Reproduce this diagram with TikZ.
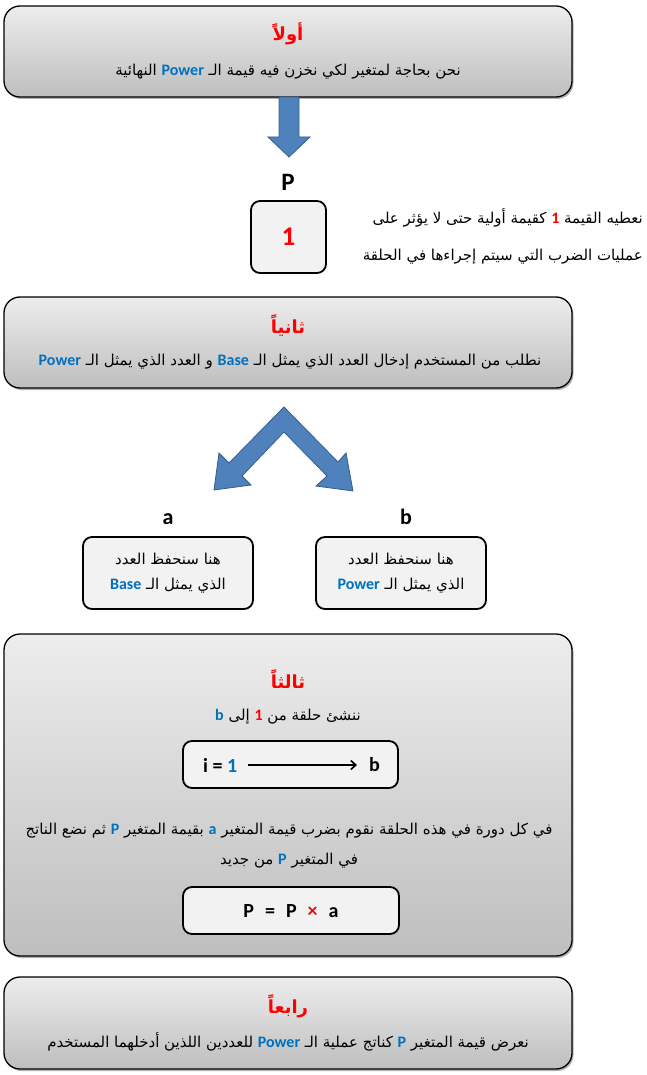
\documentclass[tikz,border=0pt]{standalone}
\usepackage{fontspec}
\setmainfont{Carlito}
\newfontfamily\arabicfont[Script=Arabic]{DejaVu Sans}
\TeXXeTstate=1
\usetikzlibrary{shadows,arrows.meta}
\definecolor{myblue}{RGB}{0,112,192}
\definecolor{myred}{RGB}{255,0,0}
\definecolor{arrowfill}{RGB}{79,129,189}
\definecolor{arrowline}{RGB}{56,93,138}
\definecolor{topg}{RGB}{237,237,237}
\definecolor{botg}{RGB}{190,190,190}
\definecolor{lightg}{RGB}{242,242,242}
\newcommand\AR[1]{\beginR #1\endR}
\newcommand\LB[1]{\beginL{\rmfamily\fontsize{16}{16}\selectfont\bfseries\color{myblue}#1}\endL}
\newcommand\LR[1]{\beginL{\rmfamily\fontsize{16}{16}\selectfont\bfseries\color{myred}#1}\endL}
\tikzset{
  bigbox/.style={draw=black, line width=1.3pt, rounded corners=16pt, top color=topg, bottom color=botg,
    drop shadow={opacity=0.3, shadow xshift=1.5pt, shadow yshift=-2pt, fill=black}, minimum width=568pt, inner sep=0pt},
  smallbox/.style={draw=black, line width=1.8pt, rounded corners=9pt, fill=lightg, inner sep=0pt},
  txt/.style={inner sep=0pt, font=\arabicfont\fontsize{15}{17}\selectfont},
  ttl/.style={inner sep=0pt, text=myred, font=\arabicfont\bfseries\fontsize{18}{20}\selectfont},
  lat/.style={inner sep=0pt, font=\rmfamily\bfseries\fontsize{22}{22}\selectfont},
  blockarrow/.style={fill=arrowfill, draw=arrowline, line width=0.8pt, line join=miter}
}
\begin{document}
\begin{tikzpicture}[x=1pt,y=-1pt]
\useasboundingbox (0,0) rectangle (647,1075);

% Box 1
\node[bigbox, minimum height=91pt] (b1) at (288,51.5) {};
\node[ttl] (t1) at (288,34) {\AR{أولاً}};
\node[txt] (l1) at (288,72) {\AR{نحن بحاجة لمتغير لكي نخزن فيه قيمة الـ \LB{Power} النهائية}};

% down arrow
\draw[blockarrow] (279,97) -- (299,97) -- (299,137) -- (310,137) -- (289,157) -- (268,137) -- (279,137) -- cycle;

% P box
\node[lat, font=\rmfamily\bfseries\fontsize{25}{25}\selectfont] (plabel) at (288,182) {P};
\node[smallbox, minimum width=75pt, minimum height=72pt] (pbox) at (288.5,237) {};
\node[lat, text=myred, font=\rmfamily\bfseries\fontsize{27}{27}\selectfont] (pone) at (288.5,237) {1};
\node[txt, anchor=east] (r1) at (643,218) {\AR{نعطيه القيمة \LR{1} كقيمة أولية حتى لا يؤثر على}};
\node[txt, anchor=east] (r2) at (643,257) {\AR{عمليات الضرب التي سيتم إجراءها في الحلقة}};

% Box 2
\node[bigbox, minimum height=91pt] (b2) at (288,342.5) {};
\node[ttl] (t2) at (288,326) {\AR{ثانياً}};
\node[txt] (l2) at (290,362) {\AR{نطلب من المستخدم إدخال العدد الذي يمثل الـ \LB{Base} و العدد الذي يمثل الـ \LB{Power}}};

% split arrow
\draw[blockarrow] (284,407) -- (338,462) -- (346,453) -- (353,491) -- (316,486) -- (327,476) -- (284,432)
  -- (242,476) -- (251,485) -- (214,490) -- (219,453) -- (229,463) -- cycle;

% a / b
\node[lat] (alabel) at (168,519) {a};
\node[lat] (blabel) at (406,517) {b};
\node[smallbox, minimum width=170pt, minimum height=72pt] (abox) at (168,573) {};
\node[smallbox, minimum width=170pt, minimum height=72pt] (bbox) at (401,573) {};
\node[txt] (a1) at (168,559) {\AR{هنا سنحفظ العدد}};
\node[txt] (a2) at (168,586) {\AR{الذي يمثل الـ \LB{Base}}};
\node[txt] (bb1) at (401,559) {\AR{هنا سنحفظ العدد}};
\node[txt] (bb2) at (401,586) {\AR{الذي يمثل الـ \LB{Power}}};

% Box 3
\node[bigbox, minimum height=322pt] (b3) at (288,795) {};
\node[ttl] (t3) at (288,679) {\AR{ثالثاً}};
\node[txt] (l3) at (288,717) {\AR{ننشئ حلقة من \LR{1} إلى \LB{b}}};
\node[smallbox, minimum width=215pt, minimum height=47pt] (ibox) at (290.5,764.5) {};
\node[lat, font=\rmfamily\bfseries\fontsize{20}{20}\selectfont, anchor=west] (istart) at (203,765) {i = \textcolor{myblue}{1}};
\node[lat, font=\rmfamily\bfseries\fontsize{20}{20}\selectfont, anchor=west] (iend) at (369,765) {b};
\draw[line width=1.6pt, -{Straight Barb[length=5pt,width=9pt]}] ([xshift=11pt]istart.east) -- ([xshift=-12pt]iend.west);
\node[txt] (l4) at (289,831) {\AR{في كل دورة في هذه الحلقة نقوم بضرب قيمة المتغير \LB{a} بقيمة المتغير \LB{P} ثم نضع الناتج}};
\node[txt] (l5) at (289,861) {\AR{في المتغير \LB{P} من جديد}};
\node[smallbox, minimum width=216pt, minimum height=47pt] (pxbox) at (291,910.5) {};
\node[lat, font=\rmfamily\bfseries\fontsize{20}{20}\selectfont] (pxa) at (291,911) {P\hspace{11pt}=\hspace{11pt}P\hspace{11pt}\textcolor{myred}{×}\hspace{11pt}a};

% Box 4
\node[bigbox, minimum height=92pt] (b4) at (288,1023) {};
\node[ttl] (t4) at (288,1006) {\AR{رابعاً}};
\node[txt] (l6) at (288,1042) {\AR{نعرض قيمة المتغير \LB{P} كناتج عملية الـ \LB{Power} للعددين اللذين أدخلهما المستخدم}};
\end{tikzpicture}
\end{document}
